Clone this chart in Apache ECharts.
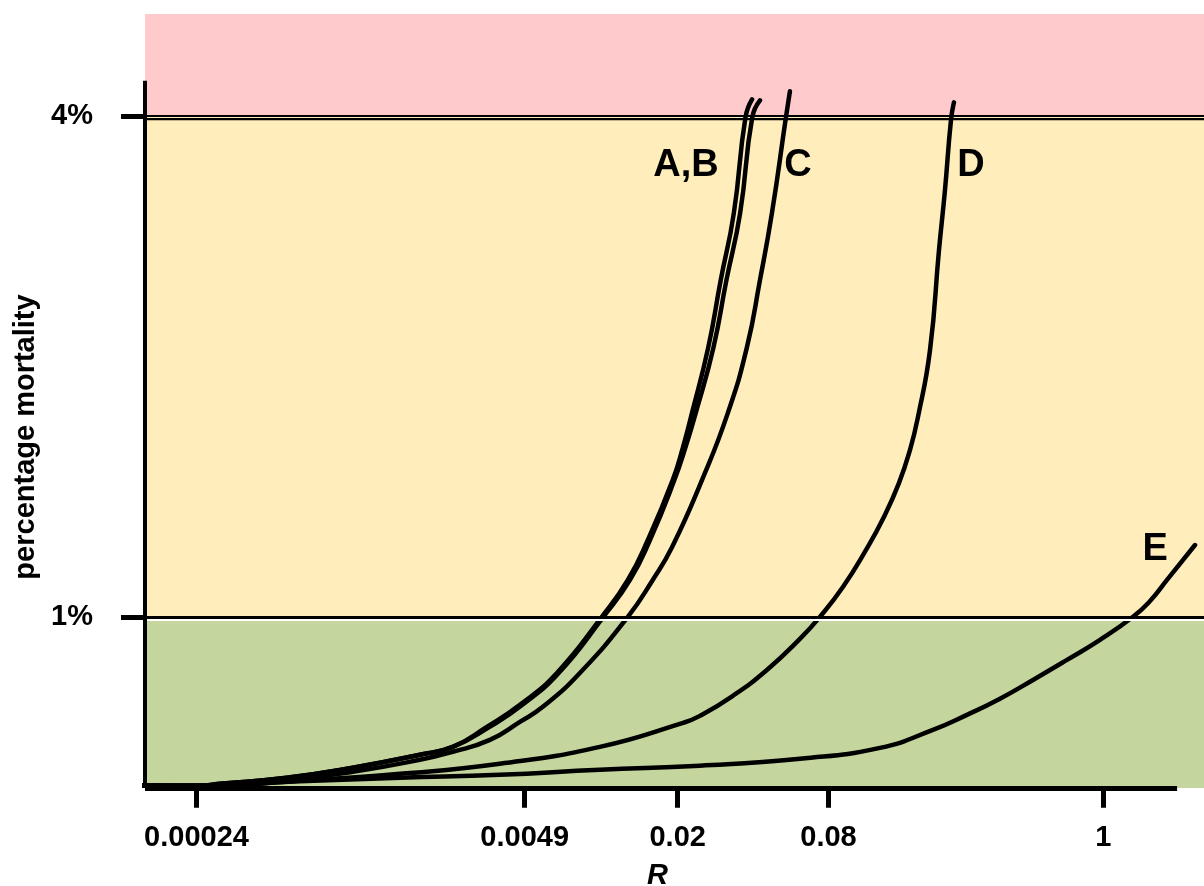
<!DOCTYPE html>
<html>
<head>
<meta charset="utf-8">
<script src="https://cdn.jsdelivr.net/npm/echarts@6/dist/echarts.min.js"></script>
<style>html,body{margin:0;padding:0;background:#fff}#c{width:1204px;height:886px}</style>
</head>
<body>
<div id="c"></div>
<script>
// ---- data ----
const xTickValues = [0.00024, 0.0049, 0.02, 0.08, 1];
const xTickLabels = ['0.00024', '0.0049', '0.02', '0.08', '1'];
const yTickValues = [1, 4];
const yTickLabels = ['1%', '4%'];
const zoneLimits = [1, 4];           // mortality thresholds (%)
const xRange = [0.0001495, 2.523];
const yRange = [-0.025, 4.61];
const xAxisEnd = 1.97;
const yAxisTop = 4.21;

const curveA = [
  [0.000124, -0.009], [0.00024, -0.012], [0.000297, 0.0], [0.00055, 0.036],
  [0.00101, 0.096], [0.00187, 0.174], [0.00253, 0.221], [0.00346, 0.341],
  [0.00469, 0.473], [0.00659, 0.664], [0.00996, 1.0], [0.01265, 1.221],
  [0.0152, 1.46], [0.0191, 1.819], [0.0210, 2.017], [0.0228, 2.22],
  [0.0265, 2.615], [0.0297, 3.016], [0.0335, 3.417], [0.0373, 3.992],
  [0.0396, 4.099]
];
const curveB = [
  [0.000124, -0.009], [0.00024, -0.012], [0.000297, 0.0], [0.00055, 0.036],
  [0.00101, 0.096], [0.00187, 0.174], [0.00253, 0.221], [0.00355, 0.341],
  [0.0048, 0.473], [0.0067, 0.664], [0.0101, 1.0], [0.0129, 1.221],
  [0.0155, 1.46], [0.0194, 1.819], [0.0215, 2.017], [0.0236, 2.22],
  [0.0278, 2.615], [0.0313, 3.016], [0.0355, 3.417], [0.0397, 3.992],
  [0.0426, 4.093]
];
const curveC = [
  [0.000124, -0.009], [0.000247, -0.012], [0.00055, 0.024], [0.00101, 0.072],
  [0.00187, 0.144], [0.00253, 0.192], [0.00356, 0.263], [0.00469, 0.371],
  [0.00579, 0.461], [0.00814, 0.664], [0.01265, 1.0], [0.0159, 1.221],
  [0.0190, 1.418], [0.025, 1.819], [0.0317, 2.22], [0.0378, 2.615],
  [0.0426, 3.016], [0.04755, 3.417], [0.0541, 3.992], [0.0561, 4.147]
];
const curveD = [
  [0.000124, -0.009], [0.000247, -0.012], [0.00062, 0.018], [0.00156, 0.06],
  [0.0039, 0.12], [0.00978, 0.221], [0.021, 0.365], [0.02453, 0.407],
  [0.03322, 0.527], [0.0454, 0.682], [0.0615, 0.868], [0.0739, 1.0],
  [0.0913, 1.179], [0.1128, 1.40], [0.1331, 1.598], [0.1528, 1.801],
  [0.1691, 1.999], [0.182, 2.196], [0.2033, 2.597], [0.2208, 3.196],
  [0.2333, 3.555], [0.2465, 3.974], [0.2534, 4.081]
];
const curveE = [
  [0.000124, -0.009], [0.000247, -0.012], [0.00062, 0.015], [0.00156, 0.036],
  [0.0039, 0.054], [0.00978, 0.084], [0.0245, 0.108], [0.0615, 0.150],
  [0.1283, 0.215], [0.2089, 0.323], [0.2856, 0.413], [0.3869, 0.510],
  [0.524, 0.622], [0.7163, 0.742], [0.970, 0.862], [1.314, 1.0],
  [1.537, 1.095], [1.796, 1.221], [2.323, 1.43]
];
const curveNames = ['A', 'B', 'C', 'D', 'E'];
const curveData = [curveA, curveB, curveC, curveD, curveE];
const curveLabels = ['A,B', 'C', 'D', 'E'];
const curveLabelAt = [[0.0216, 3.70], [0.0604, 3.70], [0.2965, 3.70], [1.611, 1.406]];
const curveLabelSeries = [0, 2, 3, 4];

// ---- style ----
const FONT = '"Liberation Sans", Arial, sans-serif';
const zoneColors = ['#C4D69D', '#FFEDBB', '#FFCACB'];

const chart = echarts.init(document.getElementById('c'), null, {renderer: 'canvas'});

const series = curveData.map((d, i) => {
  const s = {
    name: curveNames[i],
    type: 'line',
    data: d,
    smooth: 0.5,
    symbol: 'none',
    clip: false,
    silent: true,
    lineStyle: {color: '#000', width: 4.5, cap: 'round', join: 'round'},
    z: 2
  };
  const lbl = curveLabelSeries.indexOf(i);
  if (lbl >= 0) {
    s.markPoint = {
      symbol: 'circle', symbolSize: 1, silent: true,
      itemStyle: {color: 'rgba(0,0,0,0)'},
      label: {show: true, position: 'inside', formatter: '{b}', color: '#000',
              fontSize: 38, fontWeight: 'bold', fontFamily: FONT},
      data: [{name: curveLabels[lbl], coord: curveLabelAt[lbl]}]
    };
  }
  return s;
});

series[0].markArea = {
  silent: true,
  data: [
    [{yAxis: yRange[0], itemStyle: {color: zoneColors[0]}}, {yAxis: zoneLimits[0]}],
    [{yAxis: zoneLimits[0], itemStyle: {color: zoneColors[1]}}, {yAxis: zoneLimits[1]}],
    [{yAxis: zoneLimits[1], itemStyle: {color: zoneColors[2]}}, {yAxis: yRange[1]}]
  ]
};
series[0].markLine = {
  silent: true,
  symbol: ['none', 'none'],
  label: {show: false},
  data: [
    {yAxis: zoneLimits[0], lineStyle: {color: '#000', width: 3, type: 'solid', shadowColor: '#fff', shadowOffsetY: 2, shadowBlur: 0}},
    {yAxis: zoneLimits[1], lineStyle: {color: '#000', width: 2.2, type: 'solid', shadowColor: '#000', shadowOffsetY: 3.2, shadowBlur: 0}},
    [{coord: [xRange[0], yRange[0]], lineStyle: {color: '#000', width: 4, type: 'solid'}}, {coord: [xRange[0], yAxisTop]}],
    [{coord: [xRange[0], yRange[0]], lineStyle: {color: '#000', width: 5, type: 'solid'}}, {coord: [xAxisEnd, yRange[0]]}]
  ]
};

chart.setOption({
  animation: false,
  backgroundColor: '#fff',
  grid: {left: 145, right: 0, top: 14, bottom: 98, containLabel: false, outerBoundsMode: 'none'},
  xAxis: {
    type: 'log', logBase: 10, min: xRange[0], max: xRange[1],
    axisLine: {show: false},
    splitLine: {show: false},
    minorTick: {show: false},
    axisTick: {show: true, customValues: xTickValues, length: 24, lineStyle: {color: '#000', width: 5}},
    axisLabel: {
      customValues: xTickValues, margin: 35, color: '#000', fontSize: 29, fontWeight: 'bold', fontFamily: FONT,
      formatter: v => {
        let best = 0;
        xTickValues.forEach((t, i) => { if (Math.abs(Math.log10(t) - Math.log10(v)) < Math.abs(Math.log10(xTickValues[best]) - Math.log10(v))) best = i; });
        return xTickLabels[best];
      }
    },
    name: 'R', nameLocation: 'middle', nameGap: 73,
    nameTextStyle: {color: '#000', fontSize: 29, fontWeight: 'bold', fontStyle: 'italic', fontFamily: FONT, padding: [0, 34, 0, 0]}
  },
  yAxis: {
    type: 'value', min: yRange[0], max: yRange[1],
    axisLine: {show: false},
    splitLine: {show: false},
    axisTick: {show: true, customValues: yTickValues, length: 24, lineStyle: {color: '#000', width: 5}},
    axisLabel: {
      customValues: yTickValues, margin: 52, color: '#000', fontSize: 29, fontWeight: 'bold', fontFamily: FONT,
      formatter: v => yTickLabels[yTickValues.indexOf(v)] ?? ''
    },
    name: 'percentage mortality', nameLocation: 'middle', nameGap: 103,
    nameTextStyle: {color: '#000', fontSize: 29, fontWeight: 'bold', fontFamily: FONT, padding: [0, 72, 0, 0]}
  },
  series: series
});
</script>
</body>
</html>
